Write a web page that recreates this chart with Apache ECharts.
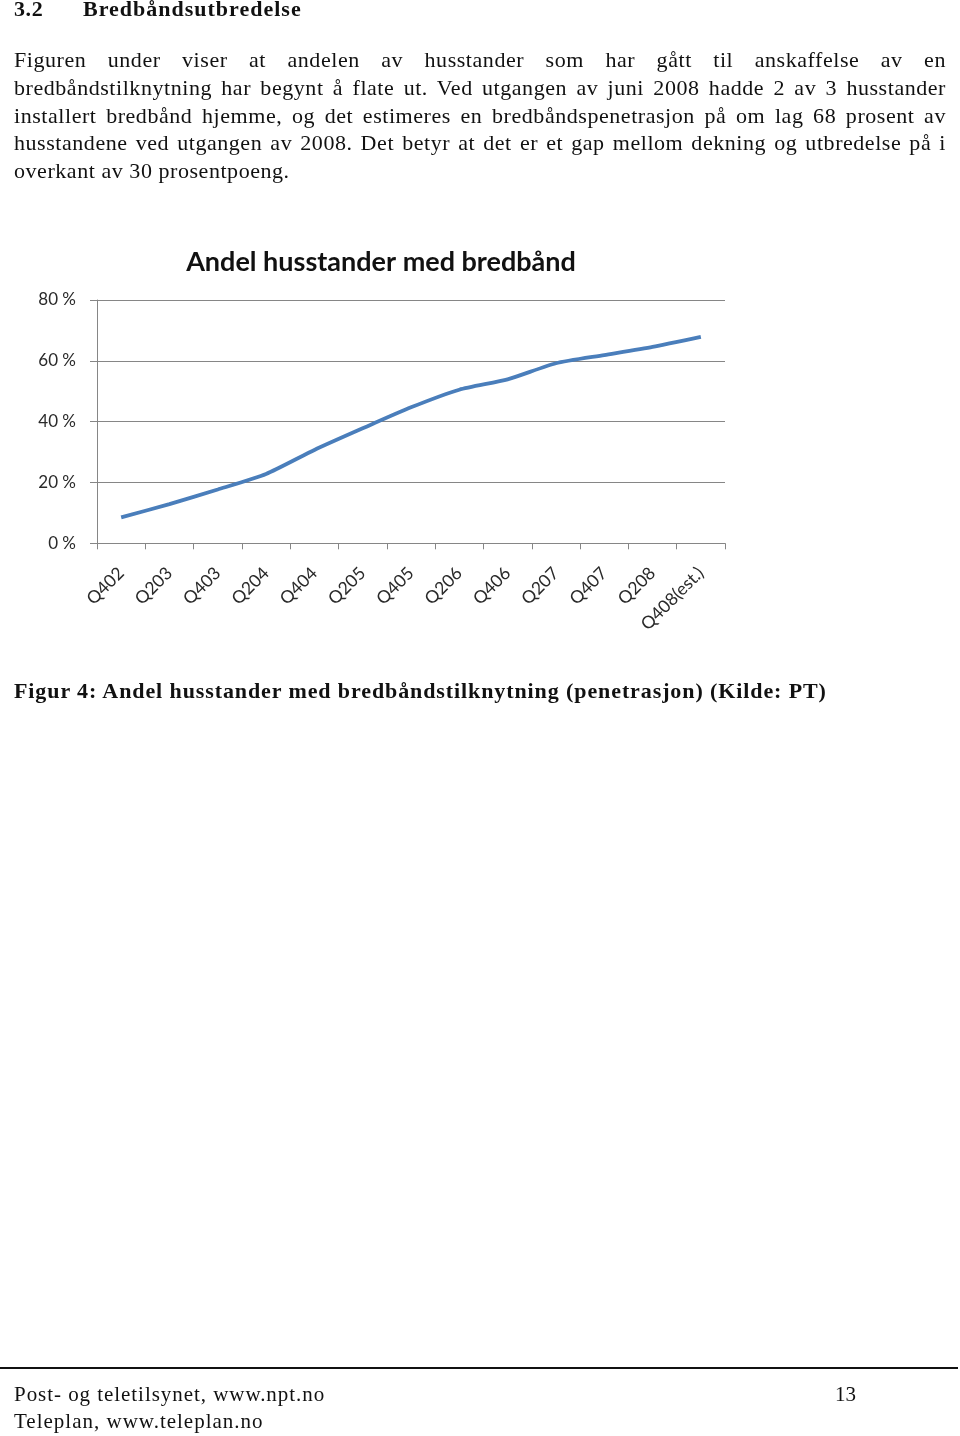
<!DOCTYPE html>
<html>
<head>
<meta charset="utf-8">
<script src="https://cdn.jsdelivr.net/npm/echarts@6/dist/echarts.min.js"></script>
<style>
  html, body { margin: 0; padding: 0; background: #fff; }
  body { width: 960px; height: 1436px; position: relative; overflow: hidden; }
  #chart { position: absolute; left: 0; top: 0; width: 960px; height: 1436px; }
  .t { position: absolute; font-family: "Liberation Serif", "DejaVu Serif", serif; color: #111; margin: 0; }
  .line { left: 14px; width: 932px; font-size: 22px; letter-spacing: 0.55px; line-height: 27.8px; height: 27.8px; text-align: justify; text-align-last: justify; white-space: nowrap; }
  .last { text-align: left; text-align-last: left; }
  .b { font-weight: bold; }
</style>
</head>
<body>
<div id="chart"></div>
<div class="t b" style="left:14px; top:-3px; font-size:22px; letter-spacing:0.6px; line-height:24px;">3.2</div>
<div class="t b" style="left:83px; top:-3px; font-size:22px; letter-spacing:1px; line-height:24px;">Bredbåndsutbredelse</div>

<div class="t line" style="top:46px;"><span>Figuren under viser at andelen av husstander som har gått til anskaffelse av en</span></div>
<div class="t line" style="top:73.8px;"><span>bredbåndstilknytning har begynt å flate ut. Ved utgangen av juni 2008 hadde 2 av 3 husstander</span></div>
<div class="t line" style="top:101.6px;"><span>installert bredbånd hjemme, og det estimeres en bredbåndspenetrasjon på om lag 68 prosent av</span></div>
<div class="t line" style="top:129.4px;"><span>husstandene ved utgangen av 2008. Det betyr at det er et gap mellom dekning og utbredelse på i</span></div>
<div class="t line last" style="top:157.2px;"><span>overkant av 30 prosentpoeng.</span></div>

<div class="t b" style="left:14px; top:677px; font-size:22px; letter-spacing:0.9px; line-height:27px; white-space:nowrap;">Figur 4: Andel husstander med bredbåndstilknytning (penetrasjon) (Kilde: PT)</div>

<div style="position:absolute; left:0; top:1367px; width:958px; height:2px; background:#111;"></div>
<div class="t" style="left:14px; top:1381px; font-size:21px; letter-spacing:0.95px; line-height:26px; white-space:nowrap;">Post- og teletilsynet, www.npt.no</div>
<div class="t" style="left:835px; top:1381px; font-size:21px; line-height:26px;">13</div>
<div class="t" style="left:14px; top:1408px; font-size:21px; letter-spacing:1px; line-height:26px; white-space:nowrap;">Teleplan, www.teleplan.no</div>

<script>
const chartTitle = 'Andel husstander med bredbånd';
const categories = ['Q402', 'Q203', 'Q403', 'Q204', 'Q404', 'Q205', 'Q405', 'Q206', 'Q406', 'Q207', 'Q407', 'Q208', 'Q408(est.)'];
const values = [8.5, 12.9, 17.7, 22.8, 30.7, 37.8, 44.7, 50.5, 53.9, 59.2, 61.9, 64.6, 67.9];
const yMin = 0, yMax = 80, yStep = 20;

// keep justified paragraph lines inside the text column
document.querySelectorAll('.line').forEach(function (el) {
  if (el.classList.contains('last')) return;
  const span = el.querySelector('span');
  el.style.textAlign = 'left';
  el.style.textAlignLast = 'left';
  let w = span.getBoundingClientRect().width;
  if (w > 930) {
    const n = span.textContent.length;
    const ls = 0.55 - (w - 930) / n;
    el.style.letterSpacing = ls + 'px';
  }
  el.style.textAlign = '';
  el.style.textAlignLast = '';
});

const chart = echarts.init(document.getElementById('chart'), null, { renderer: 'canvas' });
const axisGray = '#868686';
const labelColor = '#2a2a2a';
const font = 'Lato, "Open Sans", sans-serif';

chart.setOption({
  animation: false,
  backgroundColor: 'transparent',
  title: {
    text: chartTitle,
    left: 376,
    top: 244,
    textAlign: 'center',
    textStyle: { fontFamily: font, fontWeight: 'bold', fontSize: 27, color: '#111' }
  },
  grid: { left: 97, top: 300, width: 628, height: 243.3, containLabel: false },
  xAxis: {
    type: 'category',
    data: categories,
    boundaryGap: true,
    axisLine: { show: true, lineStyle: { color: axisGray, width: 1 } },
    axisTick: { show: true, length: 6, interval: 0, lineStyle: { color: axisGray } },
    axisLabel: { interval: 0, rotate: 45, margin: 27, fontSize: 17.5, fontFamily: font, color: labelColor },
    splitLine: { show: false }
  },
  yAxis: {
    type: 'value',
    min: yMin, max: yMax, interval: yStep,
    axisLine: { show: true, lineStyle: { color: axisGray, width: 1 } },
    axisTick: { show: true, length: 7, lineStyle: { color: axisGray } },
    axisLabel: { formatter: '{value} %', margin: 21, fontSize: 17, fontFamily: font, color: labelColor },
    splitLine: { show: true, lineStyle: { color: axisGray, width: 1 } }
  },
  series: [{
    type: 'line',
    data: values,
    smooth: 0.2,
    showSymbol: false,
    lineStyle: { color: '#4a7ebb', width: 3.8 },
    itemStyle: { color: '#4a7ebb' }
  }]
});
</script>
</body>
</html>
